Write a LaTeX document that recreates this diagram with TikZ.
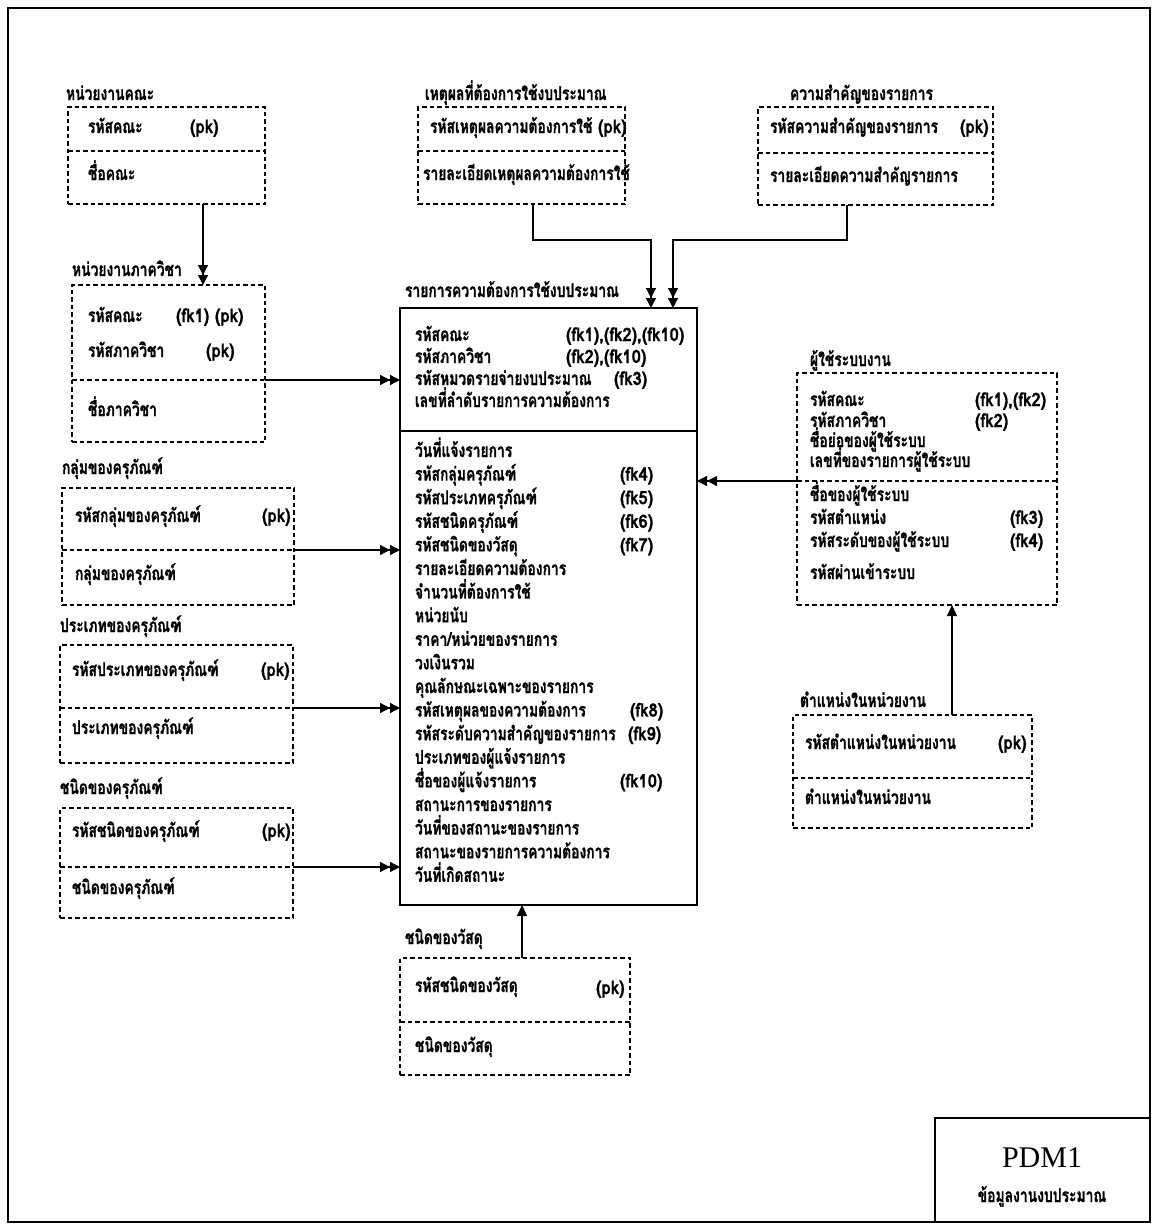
\documentclass[tikz,border=0pt]{standalone}
\usepackage{fontspec}
\setmainfont{Liberation Serif}
\newfontfamily\thai[Script=Thai, FakeStretch=0.73, BoldFeatures={FakeBold=0.9}]{Loma}
\newfontfamily\thaikey[Script=Thai, FakeStretch=0.9, BoldFeatures={FakeBold=0.9}]{Loma}
\usetikzlibrary{arrows.meta}

\begin{document}
\begin{tikzpicture}[x=1pt,y=-1pt,
  every node/.style={inner sep=0pt, outer sep=0pt},
  txt/.style={anchor=west, text height=13pt, text depth=5pt,
    font=\thai\bfseries\fontsize{19}{21}\selectfont},
  key/.style={anchor=west, text height=13pt, text depth=5pt,
    font=\thaikey\bfseries\fontsize{18.5}{21}\selectfont},
  ent/.style={draw, anchor=north west, line width=1.3pt, dash pattern=on 4.5pt off 3pt},
  sep/.style={line width=1.3pt, dash pattern=on 4.5pt off 3pt},
  main/.style={draw, anchor=north west, line width=1.3pt},
  link/.style={line width=1.3pt, -{Triangle[length=10pt,width=10pt]Triangle[length=10pt,width=10pt]}},
  link1/.style={line width=1.3pt, -{Triangle[length=11pt,width=10pt]}}]

\useasboundingbox (0,0) rectangle (1158,1231);

% outer frame and title block
\node[draw, anchor=north west, line width=1.6pt, minimum width=1142pt, minimum height=1214pt] (frame) at (8,8) {};
\node[draw, anchor=north west, line width=1.6pt, minimum width=215pt, minimum height=104pt] (P) at (935,1118) {};
\node[font=\fontsize{30}{32}\selectfont] (p1) at (1042,1158) {PDM1};
\node[txt, anchor=center] (p2) at (1042,1198) {ข้อมูลงานงบประมาณ};

% หน่วยงานคณะ
\node[txt] (At) at (66,96) {หน่วยงานคณะ};
\node[ent, minimum width=197pt, minimum height=97pt] (A) at (68,107) {};
\draw[sep] (68,151) -- (265,151);
\node[txt] (A1) at (88,129) {รหัสคณะ};
\node[key] (A1k) at (190,129) {(pk)};
\node[txt] (A2) at (88,176) {ชื่อคณะ};

% หน่วยงานภาควิชา
\node[txt] (Bt) at (72,272) {หน่วยงานภาควิชา};
\node[ent, minimum width=193pt, minimum height=157pt] (B) at (72,285) {};
\draw[sep] (72,380) -- (265,380);
\node[txt] (B1) at (88,318) {รหัสคณะ};
\node[key] (B1k) at (176,318) {(fk1) (pk)};
\node[txt] (B2) at (88,353) {รหัสภาควิชา};
\node[key] (B2k) at (206,353) {(pk)};
\node[txt] (B3) at (88,412) {ชื่อภาควิชา};

% กลุ่มของครุภัณฑ์
\node[txt] (Ct) at (62,470) {กลุ่มของครุภัณฑ์};
\node[ent, minimum width=232pt, minimum height=117pt] (C) at (62,488) {};
\draw[sep] (62,550) -- (294,550);
\node[txt] (C1) at (75,518) {รหัสกลุ่มของครุภัณฑ์};
\node[key] (C1k) at (262,518) {(pk)};
\node[txt] (C2) at (75,576) {กลุ่มของครุภัณฑ์};

% ประเภทของครุภัณฑ์
\node[txt] (Tt) at (60,628) {ประเภทของครุภัณฑ์};
\node[ent, minimum width=233pt, minimum height=118pt] (T) at (60,645) {};
\draw[sep] (60,708) -- (293,708);
\node[txt] (T1) at (72,672) {รหัสประเภทของครุภัณฑ์};
\node[key] (T1k) at (261,672) {(pk)};
\node[txt] (T2) at (72,730) {ประเภทของครุภัณฑ์};

% ชนิดของครุภัณฑ์
\node[txt] (Et) at (60,790) {ชนิดของครุภัณฑ์};
\node[ent, minimum width=233pt, minimum height=110pt] (E) at (60,808) {};
\draw[sep] (60,867) -- (293,867);
\node[txt] (E1) at (72,833) {รหัสชนิดของครุภัณฑ์};
\node[key] (E1k) at (262,833) {(pk)};
\node[txt] (E2) at (72,890) {ชนิดของครุภัณฑ์};

% ชนิดของวัสดุ
\node[txt] (Ft) at (405,940) {ชนิดของวัสดุ};
\node[ent, minimum width=230pt, minimum height=117pt] (F) at (400,958) {};
\draw[sep] (400,1022) -- (630,1022);
\node[txt] (F1) at (415,988) {รหัสชนิดของวัสดุ};
\node[key] (F1k) at (596,990) {(pk)};
\node[txt] (F2) at (415,1048) {ชนิดของวัสดุ};

% เหตุผลที่ต้องการใช้งบประมาณ
\node[txt] (Rt) at (425,96) {เหตุผลที่ต้องการใช้งบประมาณ};
\node[ent, minimum width=207pt, minimum height=97pt] (R) at (418,107) {};
\draw[sep] (418,151) -- (625,151);
\node[txt] (R1) at (430,129) {รหัสเหตุผลความต้องการใช้};
\node[key] (R1k) at (598,129) {(pk)};
\node[txt] (R2) at (423,176) {รายละเอียดเหตุผลความต้องการใช้};

% ความสำคัญของรายการ
\node[txt] (St) at (790,96) {ความสำคัญของรายการ};
\node[ent, minimum width=235pt, minimum height=98pt] (S) at (758,107) {};
\draw[sep] (758,153) -- (993,153);
\node[txt] (S1) at (770,129) {รหัสความสำคัญของรายการ};
\node[key] (S1k) at (960,129) {(pk)};
\node[txt] (S2) at (770,178) {รายละเอียดความสำคัญรายการ};

% รายการความต้องการใช้งบประมาณ
\node[txt] (Mt) at (405,293) {รายการความต้องการใช้งบประมาณ};
\node[main, minimum width=297pt, minimum height=597pt] (M) at (400,308) {};
\draw[line width=1.3pt] (400,431) -- (697,431);
\node[txt] (M1) at (415,337) {รหัสคณะ};
\node[key] (M1k) at (566,337) {(fk1),(fk2),(fk10)};
\node[txt] (M2) at (415,359) {รหัสภาควิชา};
\node[key] (M2k) at (566,359) {(fk2),(fk10)};
\node[txt] (M3) at (415,381) {รหัสหมวดรายจ่ายงบประมาณ};
\node[key] (M3k) at (614,381) {(fk3)};
\node[txt] (M4) at (415,403) {เลขที่ลำดับรายการความต้องการ};
\foreach \t [count=\i] in {วันที่แจ้งรายการ, รหัสกลุ่มครุภัณฑ์, รหัสประเภทครุภัณฑ์,
    รหัสชนิดครุภัณฑ์, รหัสชนิดของวัสดุ, รายละเอียดความต้องการ, จำนวนที่ต้องการใช้,
    หน่วยนับ, ราคา/หน่วยของรายการ, วงเงินรวม, คุณลักษณะเฉพาะของรายการ,
    รหัสเหตุผลของความต้องการ, รหัสระดับความสำคัญของรายการ, ประเภทของผู้แจ้งรายการ,
    ชื่อของผู้แจ้งรายการ, สถานะการของรายการ, วันที่ของสถานะของรายการ,
    สถานะของรายการความต้องการ, วันที่เกิดสถานะ}
  \node[txt] (L\i) at (415,{453+(\i-1)*23.6}) {\t};
\node[key] (L2k) at (620,{453+1*23.6}) {(fk4)};
\node[key] (L3k) at (620,{453+2*23.6}) {(fk5)};
\node[key] (L4k) at (620,{453+3*23.6}) {(fk6)};
\node[key] (L5k) at (620,{453+4*23.6}) {(fk7)};
\node[key] (L12k) at (630,{453+11*23.6}) {(fk8)};
\node[key] (L13k) at (628,{453+12*23.6}) {(fk9)};
\node[key] (L15k) at (620,{453+14*23.6}) {(fk10)};

% ผู้ใช้ระบบงาน
\node[txt] (Gt) at (810,362) {ผู้ใช้ระบบงาน};
\node[ent, minimum width=260pt, minimum height=232pt] (G) at (797,373) {};
\draw[sep] (797,481) -- (1057,481);
\node[txt] (G1) at (810,402) {รหัสคณะ};
\node[key] (G1k) at (975,402) {(fk1),(fk2)};
\node[txt] (G2) at (810,423) {รหัสภาควิชา};
\node[key] (G2k) at (975,423) {(fk2)};
\node[txt] (G3) at (810,443) {ชื่อย่อของผู้ใช้ระบบ};
\node[txt] (G4) at (810,463) {เลขที่ของรายการผู้ใช้ระบบ};
\node[txt] (G5) at (810,497) {ชื่อของผู้ใช้ระบบ};
\node[txt] (G6) at (810,520) {รหัสตำแหน่ง};
\node[key] (G6k) at (1010,520) {(fk3)};
\node[txt] (G7) at (810,543) {รหัสระดับของผู้ใช้ระบบ};
\node[key] (G7k) at (1010,543) {(fk4)};
\node[txt] (G8) at (810,575) {รหัสผ่านเข้าระบบ};

% ตำแหน่งในหน่วยงาน
\node[txt] (Ht) at (800,703) {ตำแหน่งในหน่วยงาน};
\node[ent, minimum width=239pt, minimum height=113pt] (H) at (793,715) {};
\draw[sep] (793,778) -- (1032,778);
\node[txt] (H1) at (805,745) {รหัสตำแหน่งในหน่วยงาน};
\node[key] (H1k) at (998,745) {(pk)};
\node[txt] (H2) at (805,800) {ตำแหน่งในหน่วยงาน};

% connectors
\draw[link] ([xshift=36.5pt]A.south) -- ([xshift=36.5pt]A.south |- B.north);
\draw[link] ([yshift=-16.5pt]B.east) -- ([yshift=-16.5pt]B.east -| M.west);
\draw[link] ([yshift=-3.5pt]C.east) -- ([yshift=-3.5pt]C.east -| M.west);
\draw[link] ([yshift=-4pt]T.east) -- ([yshift=-4pt]T.east -| M.west);
\draw[link] ([yshift=-4pt]E.east) -- ([yshift=-4pt]E.east -| M.west);
\draw[link] ([yshift=8pt]G.west) -- ([yshift=8pt]G.west -| M.east);
\draw[link] ([xshift=11.5pt]R.south) -- ++(0,36) -| ([xshift=102.5pt]M.north);
\draw[link] ([xshift=-28.5pt]S.south) -- ++(0,35) -| ([xshift=124.5pt]M.north);
\draw[link1] ([xshift=7pt]F.north) -- ([xshift=7pt]F.north |- M.south);
\draw[link1] ([xshift=39.5pt]H.north) -- ([xshift=39.5pt]H.north |- G.south);
\end{tikzpicture}
\end{document}
